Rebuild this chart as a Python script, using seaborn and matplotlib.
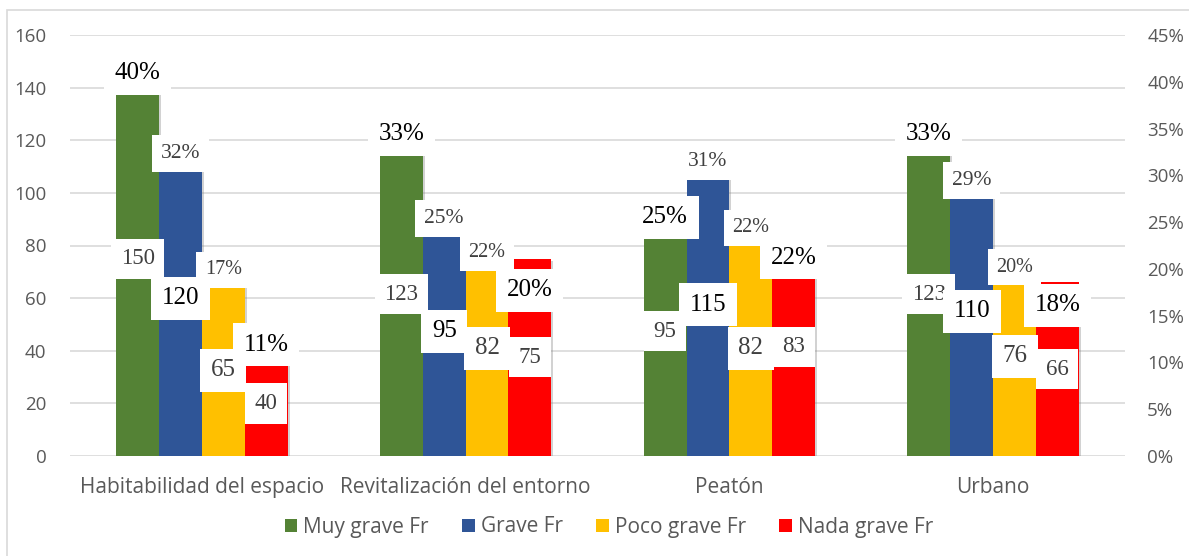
import pandas as pd
import seaborn as sns
import matplotlib.pyplot as plt
import matplotlib.ticker as ticker
import matplotlib.patheffects as pe
from matplotlib.patches import Rectangle, Patch

# datos
categorias = ["Habitabilidad del espacio", "Revitalización del entorno", "Peatón", "Urbano"]
series = ["Muy grave Fr", "Grave Fr", "Poco grave Fr", "Nada grave Fr"]

muy_grave = [150, 123, 95, 123]
grave = [120, 95, 115, 110]
poco_grave = [65, 82, 82, 76]
nada_grave = [40, 75, 83, 66]

muy_grave_pct = [40, 33, 25, 33]
grave_pct = [32, 25, 31, 29]
poco_grave_pct = [17, 22, 22, 20]
nada_grave_pct = [11, 20, 22, 18]

conteos = [muy_grave, grave, poco_grave, nada_grave]
porcentajes = [muy_grave_pct, grave_pct, poco_grave_pct, nada_grave_pct]

# estilo
colores = ["#548235", "#2F5597", "#FFC000", "#FF0000"]
# desplazamiento de las etiquetas de % (en puntos porcentuales)
ajuste_pct = [[0.9, 1.4, 0.5, 1.4],
              [0.3, 0.4, 0.5, 0.4],
              [2.9, -0.3, 2.4, 0.2],
              [0.9, -2.3, -0.8, -1.9]]
tam_pct = [18, 15.5, 14.5, 18]
col_pct = ["black", "#404040", "#404040", "black"]
tam_conteo = [16.5, 18, 18, 16.5]
col_conteo = ["#404040", "black", "#404040", "#404040"]

rows = []
for s, vals in zip(series, conteos):
    for c, v in zip(categorias, vals):
        rows.append({"categoria": c, "serie": s, "valor": v})
df = pd.DataFrame(rows)

sns.set_style("white")
plt.rcParams['font.family'] = ['Open Sans', 'DejaVu Sans']

fig = plt.figure(figsize=(11.89, 5.56), dpi=100)
ax = fig.add_axes([70/1189, 1-456/556, (1125-70)/1189, (456-35)/556])

sns.barplot(data=df, x="categoria", y="valor", hue="serie", palette=colores,
            width=0.65, gap=0, saturation=1, legend=False, ax=ax, zorder=2)

sombra = [pe.SimplePatchShadow(offset=(1.5, -1.5), shadow_rgbFace="#7f7f7f", alpha=0.35), pe.Normal()]
for bar in ax.patches:
    bar.set_linewidth(0)
    bar.set_path_effects(sombra)

ax.set_ylim(0, 160)
ax.set_xlim(-0.5, 3.5)
ax.set_yticks(range(0, 161, 20))
ax.yaxis.grid(True, color="#d9d9d9", lw=1.2, zorder=0)
ax.set_axisbelow(True)
for sp in ax.spines.values():
    sp.set_visible(False)
ax.tick_params(axis="y", length=0, pad=17, labelsize=13.5, labelcolor="#595959")
ax.tick_params(axis="x", length=0, pad=15, labelsize=15, labelcolor="#595959")
ax.set_xlabel("")
ax.set_ylabel("")

ax2 = ax.twinx()
ax2.set_ylim(0, 0.45)
ax2.set_yticks([i * 0.05 for i in range(10)])
ax2.yaxis.set_major_formatter(ticker.PercentFormatter(1.0, decimals=0))
for sp in ax2.spines.values():
    sp.set_visible(False)
ax2.tick_params(axis="y", length=0, pad=16, labelsize=13.5, labelcolor="#595959")

serif = ['Liberation Serif', 'DejaVu Serif']
for i, cont in enumerate(ax.containers):
    for j, bar in enumerate(cont):
        xc = bar.get_x() + bar.get_width() / 2
        v = conteos[i][j]
        ax2.text(xc, v / 2, str(v), transform=ax.transData, ha="center", va="center",
                 family=serif, fontsize=tam_conteo[i], color=col_conteo[i], zorder=5,
                 bbox=dict(boxstyle="square,pad=0.42", fc="white", ec="none"))
        p = porcentajes[i][j]
        ax2.text(xc, (p + ajuste_pct[i][j]) / 100, f"{p}%", ha="center", va="center",
                 family=serif, fontsize=tam_pct[i], color=col_pct[i], zorder=6,
                 bbox=dict(boxstyle="square,pad=0.42", fc="white", ec="none"))

handles = [Patch(facecolor=c, edgecolor="none") for c in colores]
fig.legend(handles, series, loc="center", bbox_to_anchor=(609/1189, 1-527/556), ncol=4,
           frameon=False, fontsize=15, labelcolor="#595959", handlelength=0.6,
           handleheight=0.6, handletextpad=0.3, columnspacing=1.6)

fig.patches.append(Rectangle((7/1189, -0.1), 1.2, 1.1 - 10/556, transform=fig.transFigure,
                             fill=False, edgecolor="#d9d9d9", lw=1.2))

fig.savefig("out.png", dpi=100)
